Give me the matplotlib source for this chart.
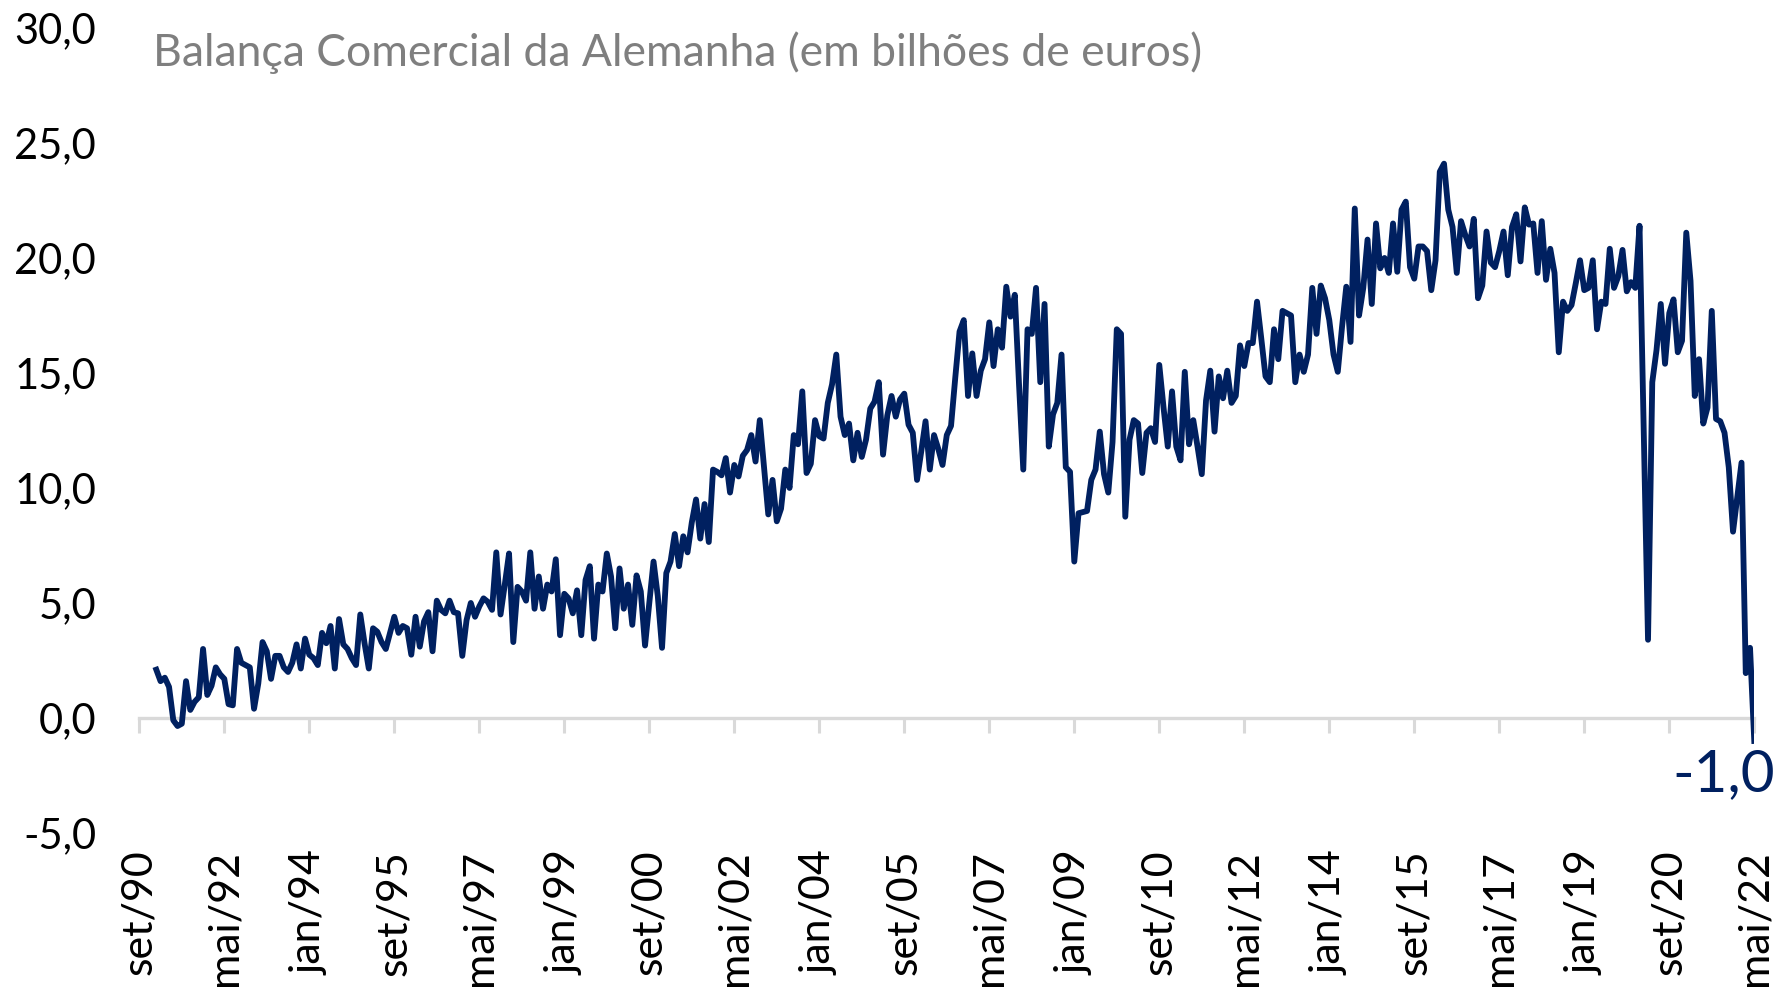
import matplotlib
matplotlib.use("Agg")
import matplotlib.pyplot as plt
import numpy as np

# Saldo mensal da balança comercial alemã, em bilhões de euros (jan/1991 a mai/2022)
saldo_1991_1999 = [
    2.1, 1.6, 1.75, 1.35, -0.1, -0.35, -0.25, 1.6, 0.35, 0.7, 0.9, 3.0,
    1.0, 1.4, 2.2, 1.9, 1.7, 0.6, 0.55, 3.0, 2.4, 2.3, 2.2, 0.4,
    1.5, 3.3, 2.9, 1.7, 2.7, 2.7, 2.2, 2.0, 2.4, 3.2, 2.15, 3.45,
    2.75, 2.6, 2.3, 3.7, 3.25, 4.0, 2.15, 4.3, 3.2, 3.0, 2.6, 2.3,
    4.5, 3.25, 2.15, 3.9, 3.75, 3.3, 3.0, 3.7, 4.4, 3.7, 4.0, 3.9,
    2.75, 4.4, 3.1, 4.2, 4.6, 2.9, 5.1, 4.7, 4.55, 5.1, 4.6, 4.55,
    2.7, 4.25, 5.0, 4.4, 4.85, 5.2, 5.05, 4.7, 7.2, 4.5, 5.8, 7.15,
    3.3, 5.7, 5.5, 5.1, 7.2, 4.75, 6.15, 4.75, 5.8, 5.5, 6.9, 3.6,
    5.4, 5.2, 4.55, 5.55, 3.6, 6.0, 6.6, 3.45, 5.8, 5.5, 7.15, 6.15,
]
saldo_2000_2009 = [
    3.9, 6.5, 4.75, 5.8, 4.05, 6.2, 5.5, 3.15, 5.0, 6.8, 5.3, 3.05,
    6.3, 6.8, 8.0, 6.6, 7.9, 7.2, 8.5, 9.5, 7.8, 9.3, 7.65, 10.8,
    10.7, 10.55, 11.3, 9.8, 11.0, 10.5, 11.4, 11.65, 12.3, 11.15, 12.95, 10.9,
    8.85, 10.35, 8.55, 9.1, 10.8, 10.0, 12.3, 11.9, 14.2, 10.65, 11.05, 12.95,
    12.25, 12.15, 13.7, 14.5, 15.8, 13.1, 12.3, 12.8, 11.2, 12.4, 11.35, 12.1,
    13.45, 13.75, 14.6, 11.45, 13.15, 14.0, 13.1, 13.85, 14.1, 12.75, 12.4, 10.35,
    11.6, 12.9, 10.8, 12.3, 11.7, 11.0, 12.3, 12.7, 14.8, 16.8, 17.3, 14.0,
    15.85, 14.0, 15.1, 15.6, 17.2, 15.3, 16.9, 16.1, 18.75, 17.45, 18.4, 14.5,
    10.8, 16.9, 16.7, 18.7, 14.6, 18.0, 11.8, 13.2, 13.7, 15.8, 10.9, 10.7,
    6.8, 8.9, 8.95, 9.0, 10.35, 10.8, 12.45, 10.6, 9.8, 12.0, 16.9, 16.7,
]
saldo_2010_2022 = [
    8.75, 12.1, 12.95, 12.8, 10.65, 12.4, 12.6, 12.0, 15.35, 13.5, 11.8, 14.2,
    11.8, 11.2, 15.05, 11.9, 12.95, 11.8, 10.6, 13.8, 15.1, 12.45, 14.85, 13.9,
    15.1, 13.7, 14.0, 16.2, 15.3, 16.3, 16.3, 18.1, 16.5, 14.85, 14.6, 16.9,
    15.6, 17.7, 17.6, 17.5, 14.6, 15.8, 15.05, 15.8, 18.7, 16.7, 18.8, 18.25,
    17.3, 15.8, 15.05, 17.0, 18.75, 16.35, 22.15, 17.5, 18.7, 20.8, 18.0, 21.5,
    19.55, 20.0, 19.35, 21.5, 19.4, 22.1, 22.45, 19.6, 19.1, 20.5, 20.5, 20.3,
    18.6, 19.9, 23.75, 24.1, 22.1, 21.35, 19.35, 21.6, 21.0, 20.5, 21.7, 18.25,
    18.8, 21.15, 19.8, 19.6, 20.3, 21.15, 19.25, 21.35, 21.9, 19.85, 22.2, 21.45,
    21.5, 19.35, 21.6, 19.05, 20.4, 19.35, 15.9, 18.1, 17.7, 17.95, 18.9, 19.9,
    18.6, 18.7, 19.9, 16.9, 18.1, 18.0, 20.4, 18.7, 19.2, 20.35, 18.55, 18.95,
    18.7, 21.4, 12.4, 3.4, 14.6, 16.0, 18.0, 15.4, 17.6, 18.2, 15.9, 16.4,
    21.1, 19.0, 14.0, 15.6, 12.8, 13.5, 17.7, 13.0, 12.9, 12.4, 10.9, 8.1,
    9.6, 11.1, 1.95, 3.05, -1.0,
]
first_year = 1991

tick_labels = ["set/90", "mai/92", "jan/94", "set/95", "mai/97", "jan/99", "set/00",
               "mai/02", "jan/04", "set/05", "mai/07", "jan/09", "set/10", "mai/12",
               "jan/14", "set/15", "mai/17", "jan/19", "set/20", "mai/22"]
y_ticks = [-5, 0, 5, 10, 15, 20, 25, 30]
title = "Balança Comercial da Alemanha (em bilhões de euros)"

meses = {"jan": 0, "fev": 1, "mar": 2, "abr": 3, "mai": 4, "jun": 5,
         "jul": 6, "ago": 7, "set": 8, "out": 9, "nov": 10, "dez": 11}


def month_index(label):
    mes, ano = label.split("/")
    ano = int(ano)
    ano += 1900 if ano > 50 else 2000
    return (ano - first_year) * 12 + meses[mes]


def fmt(v):
    return "{:.1f}".format(v).replace(".", ",")


plt.rcParams["font.family"] = ["Lato", "DejaVu Sans"]

saldo = np.array(saldo_1991_1999 + saldo_2000_2009 + saldo_2010_2022)
x = np.arange(len(saldo))
tick_pos = [month_index(l) for l in tick_labels]

navy = "#002060"
grey_line = "#d9d9d9"

fig = plt.figure(figsize=(17.79, 9.99), dpi=100)
ax = fig.add_axes([0.0783, 0.1662, 0.9078, 0.8058])

ax.plot(x, saldo, color=navy, lw=4.2, solid_joinstyle="round", zorder=3)

ax.set_xlim(tick_pos[0], tick_pos[-1])
ax.set_ylim(y_ticks[0], y_ticks[-1])
ax.set_yticks(y_ticks)
ax.set_yticklabels([fmt(v) for v in y_ticks])
ax.set_xticks(tick_pos)
ax.set_xticklabels(tick_labels, rotation=90)
for s in ax.spines.values():
    s.set_visible(False)
ax.tick_params(axis="both", length=0, colors="black")
ax.tick_params(axis="y", labelsize=30, pad=31)
ax.tick_params(axis="x", labelsize=31, pad=12)

# eixo horizontal no zero, com as marcas de 20 em 20 meses
zero = ax.secondary_xaxis((0 - y_ticks[0]) / (y_ticks[-1] - y_ticks[0]))
zero.set_zorder(1)
zero.set_xticks(tick_pos)
zero.tick_params(axis="x", direction="out", length=11, width=2.2,
                 color=grey_line, labelbottom=False, labeltop=False)
zero.spines["bottom"].set_color(grey_line)
zero.spines["bottom"].set_linewidth(2.4)

ax.annotate(fmt(saldo[-1]), xy=(x[-1], saldo[-1]), xytext=(-22, -36),
            textcoords="offset points", ha="center", va="baseline",
            fontsize=42, color=navy)

fig.text(153 / 1779, 1 - 66 / 999, title, fontsize=32, color="#7f7f7f",
         ha="left", va="baseline")

fig.savefig("out.png", dpi=100)
